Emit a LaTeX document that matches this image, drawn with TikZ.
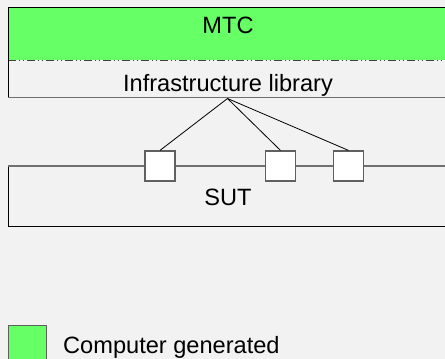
\documentclass[tikz,border=0pt]{standalone}
\usepackage{fontspec}
\setmainfont{Liberation Sans}
\definecolor{bg}{HTML}{F2F2F2}
\definecolor{gen}{HTML}{66FF66}
\definecolor{edge}{HTML}{707070}
\definecolor{sqedge}{HTML}{606060}
\tikzset{
  x=1pt, y=-1pt,
  lbl/.style={inner sep=0pt, anchor=base, font=\fontsize{23.6}{28}\selectfont},
  port/.style={draw=sqedge, line width=1.2pt, fill=white, minimum width=30pt, minimum height=30pt, inner sep=0pt},
  link/.style={draw=black, line width=0.8pt},
  solid edge/.style={line width=0.9pt, draw=black},
  grey edge/.style={line width=1.5pt, draw=edge},
}
\begin{document}
\begin{tikzpicture}
  % canvas
  \fill[bg] (0,0) rectangle (445,359);
  \useasboundingbox (0,0) rectangle (445,359);

  % MTC part, computer generated
  \fill[gen] (8,7) rectangle (450,60);
  \draw[line width=1.4pt, draw=black!75, dash pattern=on 8pt off 3pt on 1pt off 2.5pt on 1pt off 3.5pt]
    (8,60.5) -- (450,60.5);
  \draw[solid edge] (450,7) -- (8,7) -- (8,97.5);
  \draw[grey edge] (8,97.5) -- (450,97.5);
  \node[lbl] (mtc) at (228,33) {MTC};
  \node[lbl] (lib) at (228,91) {Infrastructure library};

  % SUT box
  \draw[solid edge] (8,166) -- (8,226) -- (450,226);
  \draw[grey edge] (8,166) -- (450,166);
  \node[lbl] (sut) at (228,205) {SUT};

  % ports on the SUT boundary
  \node[port] (p1) at (160,166) {};
  \node[port] (p2) at (280.5,166) {};
  \node[port] (p3) at (348.5,166) {};

  % library links
  \coordinate (apex) at (227.5,98.5);
  \draw[link] (apex) -- (p1.north);
  \draw[link] (apex) -- (p2.north);
  \draw[link] (apex) -- (p3.north);

  % legend
  \node[draw=sqedge, line width=1pt, fill=gen, minimum width=38pt, minimum height=38pt, inner sep=0pt, anchor=north west] (key) at (8,324.5) {};
  \node[lbl, anchor=base west] (keytext) at (63,353) {Computer generated};
\end{tikzpicture}
\end{document}
